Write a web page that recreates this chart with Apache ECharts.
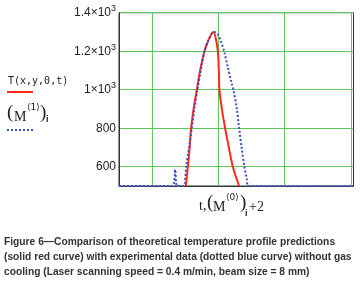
<!DOCTYPE html>
<html>
<head>
<meta charset="utf-8">
<script src="https://cdn.jsdelivr.net/npm/echarts@6/dist/echarts.min.js"></script>
<style>
  html, body { margin: 0; padding: 0; background: #fff; }
  #chart { width: 363px; height: 285px; }
</style>
</head>
<body>
<div id="chart"></div>
<script>
// theoretical curve (solid red)
var redT = [1.009, 1.039, 1.059, 1.089, 1.130, 1.175, 1.225, 1.290, 1.350, 1.425, 1.461, 1.492, 1.507, 1.516, 1.552, 1.602, 1.662, 1.718, 1.813];
var redV = [500, 600, 668, 800, 910, 1000, 1101, 1200, 1257, 1300, 1266, 1200, 1101, 1000, 902, 800, 694, 600, 500];
// experimental data (dotted blue)
var blueT = [0, 0.807, 0.848, 0.878, 0.973, 1.014, 1.059, 1.099, 1.139, 1.184, 1.235, 1.290, 1.350, 1.401, 1.440, 1.492, 1.541, 1.587, 1.642, 1.702, 1.727, 1.778, 1.813, 1.853, 1.893, 1.929, 1.953, 3.54];
var blueV = [500, 500, 585, 500, 500, 600, 703, 800, 902, 1000, 1101, 1200, 1257, 1292, 1300, 1288, 1248, 1200, 1118, 1032, 1000, 902, 800, 694, 600, 538, 500, 500];
// axis ticks
var yTicks = [600, 800, 1000, 1200, 1400];
var xTicks = [0.5, 1.5, 2.5, 3.5];

function pairs(xs, ys) {
  return xs.map(function (x, i) { return [x, ys[i]]; });
}

var chart = echarts.init(document.getElementById('chart'));
var serif = 'Liberation Serif';
var sans = 'Liberation Sans';
var option = {
  animation: false,
  grid: {
    left: 119, right: 9.5, top: 12.7, bottom: 99,
    show: true, borderColor: '#333', borderWidth: 1, backgroundColor: 'transparent'
  },
  xAxis: {
    type: 'value', min: 0, max: 3.54,
    axisLine: { show: true, onZero: false, lineStyle: { color: '#333' } },
    axisTick: { show: false, customValues: xTicks },
    axisLabel: { show: false, customValues: xTicks },
    splitLine: { show: true, lineStyle: { color: '#5cc85c', width: 1 } }
  },
  yAxis: {
    type: 'value', min: 500, max: 1400,
    axisLine: { show: true, lineStyle: { color: '#333' } },
    axisTick: { show: false, customValues: yTicks },
    axisLabel: {
      customValues: yTicks,
      margin: 3,
      color: '#222',
      fontFamily: sans,
      fontSize: 12,
      formatter: function (v) {
        if (v >= 1000) return '{m|' + (v / 1000) + '×10}{s|3}';
        return v;
      },
      rich: {
        m: { fontFamily: sans, fontSize: 12, color: '#222' },
        s: { fontFamily: sans, fontSize: 9, color: '#222', padding: [0, 0, 8, 0] }
      }
    },
    splitLine: { show: true, lineStyle: { color: '#5cc85c', width: 1 } }
  },
  series: [
    {
      type: 'line', data: pairs(redT, redV), showSymbol: false, smooth: 0.3,
      lineStyle: { color: '#ff2a1a', width: 2 }, z: 3
    },
    {
      type: 'line', data: pairs(blueT, blueV), showSymbol: false, smooth: 0.3,
      lineStyle: { color: '#3b4fc4', width: 2, type: [2, 2] }, z: 4
    }
  ],
  graphic: [
    // legend
    { type: 'text', left: 8, top: 76, style: { text: 'T(x,y,0,t)', font: '10px "DejaVu Sans Mono"', fill: '#222' } },
    { type: 'line', shape: { x1: 7, y1: 92, x2: 33, y2: 92 }, style: { stroke: '#ff2a1a', lineWidth: 2 } },
    { type: 'text', left: 7, top: 104, style: { text: '(', font: '19px ' + serif, fill: '#222' } },
    { type: 'text', left: 14, top: 110, style: { text: 'M', font: '14px ' + serif, fill: '#222' } },
    { type: 'text', left: 27, top: 103, style: { text: '⟨1⟩', font: '9px "DejaVu Sans"', fill: '#222' } },
    { type: 'text', left: 40, top: 104, style: { text: ')', font: '19px ' + serif, fill: '#222' } },
    { type: 'text', left: 46, top: 115, style: { text: 'i', font: 'bold 9px ' + sans, fill: '#222' } },
    { type: 'line', shape: { x1: 7, y1: 130, x2: 33, y2: 130 }, style: { stroke: '#3b4fc4', lineWidth: 2, lineDash: [2, 2] } },
    // x axis title
    { type: 'text', left: 199, top: 199, style: { text: 't,', font: '14px ' + serif, fill: '#222' } },
    { type: 'text', left: 207, top: 194, style: { text: '(', font: '19px ' + serif, fill: '#222' } },
    { type: 'text', left: 213, top: 200, style: { text: 'M', font: '14px ' + serif, fill: '#222' } },
    { type: 'text', left: 226, top: 193, style: { text: '⟨0⟩', font: '9px "DejaVu Sans"', fill: '#222' } },
    { type: 'text', left: 240, top: 194, style: { text: ')', font: '19px ' + serif, fill: '#222' } },
    { type: 'text', left: 245, top: 209, style: { text: 'i', font: 'bold 9px ' + sans, fill: '#222' } },
    { type: 'text', left: 249, top: 200, style: { text: '+2', font: '14px ' + serif, fill: '#222' } },
    // caption
    {
      type: 'text', x: 4, y: 235, scaleX: 0.975,
      style: {
        text: 'Figure 6\u2014Comparison of theoretical temperature profile predictions\n(solid red curve) with experimental data (dotted blue curve) without gas\ncooling (Laser scanning speed = 0.4 m/min, beam size = 8 mm)',
        font: 'bold 10.5px ' + sans, lineHeight: 15, fill: '#333'
      }
    }
  ]
};
chart.setOption(option);
</script>
</body>
</html>
